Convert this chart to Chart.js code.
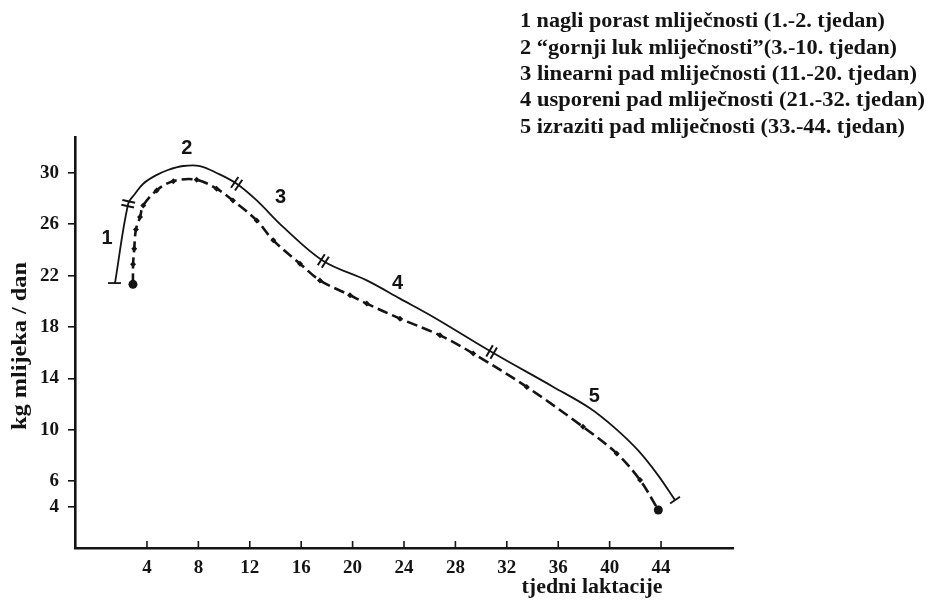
<!DOCTYPE html>
<html><head><meta charset="utf-8">
<script src="https://cdn.jsdelivr.net/npm/chart.js@4/dist/chart.umd.min.js"></script>
<style>html,body{margin:0;padding:0;background:#fff;}canvas{display:block;}</style>
</head><body>
<canvas id="c" width="926" height="605"></canvas>
<script>
// ---- data ----
const weeksSolid = [1.51, 2.54, 3.07, 3.71, 4.62, 5.63, 6.82, 8.12, 9.42, 10.98, 12.54, 14.61, 17.72, 21.1, 23.69, 26.28, 30.82, 35.62, 38.47, 40.42, 42.2, 43.76, 45.09];
const milkSolid  = [21.42, 27.6, 28.38, 29.16, 29.77, 30.23, 30.54, 30.54, 30.0, 29.16, 27.86, 25.78, 23.14, 21.63, 20.21, 18.78, 16.05, 13.33, 11.67, 10.12, 8.4, 6.46, 4.51];
const weeksDashed = [2.91, 2.92, 3.01, 3.14, 3.46, 3.71, 4.75, 6.05, 7.87, 9.42, 10.69, 12.54, 13.83, 15.91, 17.46, 19.8, 21.1, 23.69, 26.8, 29.39, 33.55, 37.93, 40.55, 42.37, 43.79];
const milkDashed  = [21.32, 22.88, 24.1, 25.6, 26.56, 27.47, 28.64, 29.36, 29.47, 28.77, 27.86, 26.3, 24.75, 22.93, 21.63, 20.47, 19.82, 18.65, 17.35, 15.93, 13.33, 10.22, 8.15, 6.07, 3.74];
const xTicks = [4, 8, 12, 16, 20, 24, 28, 32, 36, 40, 44];
const yTicks = [4, 6, 10, 14, 18, 22, 26, 30];
const breakWeeks = [2.54, 10.98, 17.72, 30.82];
const phaseLabels = ['1', '2', '3', '4', '5'];
const phaseLabelWeeks = [0.9, 7.1, 14.4, 23.5, 38.8];
const phaseLabelMilk  = [24.9, 31.9, 28.1, 21.4, 12.6];
const legendLines = [
  '1 nagli porast mliječnosti (1.-2. tjedan)',
  '2 \u201Cgornji luk mliječnosti\u201D(3.-10. tjedan)',
  '3 linearni pad mliječnosti (11.-20. tjedan)',
  '4 usporeni pad mliječnosti (21.-32. tjedan)',
  '5 izraziti pad mliječnosti (33.-44. tjedan)'
];
const legendWidths = [365, 377, 397, 405, 385];
const xTitle = 'tjedni laktacije';
const yTitle = 'kg mlijeka / dan';

const INK = '#141414';
const SERIF = '"Liberation Serif", "Times New Roman", serif';

const solidData = weeksSolid.map((w, i) => ({x: w, y: milkSolid[i]}));
const dashedData = weeksDashed.map((w, i) => ({x: w, y: milkDashed[i]}));

function stretchText(ctx, t, x, y, width) {
  const w = ctx.measureText(t).width;
  const k = width / w;
  ctx.save();
  ctx.translate(x, y);
  ctx.scale(k, 1);
  ctx.fillText(t, 0, 0);
  ctx.restore();
}

const decor = {
  id: 'decor',
  afterDraw(chart) {
    const {ctx, scales: {x, y}, chartArea} = chart;
    ctx.save();
    ctx.strokeStyle = INK; ctx.fillStyle = INK;
    // x tick marks pointing up
    ctx.lineWidth = 1.6;
    xTicks.forEach(v => {
      const px = x.getPixelForValue(v);
      ctx.beginPath(); ctx.moveTo(px, chartArea.bottom); ctx.lineTo(px, chartArea.bottom - 7); ctx.stroke();
    });
    // break marks on the solid curve
    const pts = solidData.map(p => [x.getPixelForValue(p.x), y.getPixelForValue(p.y)]);
    breakWeeks.forEach(w => {
      const i = weeksSolid.indexOf(w);
      const a = pts[Math.max(0, i - 1)], b = pts[Math.min(pts.length - 1, i + 1)];
      let dx = b[0] - a[0], dy = b[1] - a[1];
      const L = Math.hypot(dx, dy); dx /= L; dy /= L;
      const nx = -dy, ny = dx;
      const c = pts[i];
      ctx.lineWidth = 2;
      [-2.4, 2.4].forEach(o => {
        const cx = c[0] + dx * o, cy = c[1] + dy * o;
        ctx.beginPath();
        ctx.moveTo(cx - nx * 6.5, cy - ny * 6.5);
        ctx.lineTo(cx + nx * 6.5, cy + ny * 6.5);
        ctx.stroke();
      });
    });
    // end caps
    ctx.lineWidth = 1.8;
    const s0 = pts[0];
    ctx.beginPath(); ctx.moveTo(s0[0] - 7, s0[1]); ctx.lineTo(s0[0] + 6, s0[1]); ctx.stroke();
    const sn = pts[pts.length - 1], sp = pts[pts.length - 2];
    let ex = sn[0] - sp[0], ey = sn[1] - sp[1];
    const EL = Math.hypot(ex, ey); ex /= EL; ey /= EL;
    ctx.beginPath(); ctx.moveTo(sn[0] + ey * 6, sn[1] - ex * 6); ctx.lineTo(sn[0] - ey * 6, sn[1] + ex * 6); ctx.stroke();
    // phase labels
    ctx.font = 'bold 20px "Liberation Sans", Arial, sans-serif';
    ctx.textAlign = 'center'; ctx.textBaseline = 'middle';
    phaseLabels.forEach((t, i) => {
      ctx.fillText(t, x.getPixelForValue(phaseLabelWeeks[i]), y.getPixelForValue(phaseLabelMilk[i]));
    });
    // legend block
    ctx.font = 'bold 20px ' + SERIF;
    ctx.textAlign = 'left';
    legendLines.forEach((t, i) => {
      stretchText(ctx, t, 520, 22 + i * 26.4, legendWidths[i]);
    });
    // axis titles
    ctx.font = 'bold 20px ' + SERIF;
    ctx.textAlign = 'center';
    stretchText(ctx, xTitle, 592, 588, 141);
    ctx.save();
    ctx.translate(21, 346);
    ctx.rotate(-Math.PI / 2);
    stretchText(ctx, yTitle, 0, 0, 168);
    ctx.restore();
    ctx.restore();
  }
};

new Chart(document.getElementById('c'), {
  type: 'scatter',
  data: {
    datasets: [
      {
        label: 'faze',
        data: solidData,
        showLine: true,
        borderColor: INK,
        borderWidth: 1.8,
        tension: 0.35,
        pointRadius: 0,
        fill: false
      },
      {
        label: 'mliječnost',
        data: dashedData,
        showLine: true,
        borderColor: INK,
        backgroundColor: INK,
        borderWidth: 2.6,
        borderDash: [11, 5],
        tension: 0.35,
        pointStyle: ctx => (ctx.dataIndex === 0 || ctx.dataIndex === dashedData.length - 1) ? 'circle' : 'rectRot',
        pointRadius: ctx => (ctx.dataIndex === 0 || ctx.dataIndex === dashedData.length - 1) ? 4.5 : 3,
        pointBorderWidth: 0,
        fill: false
      }
    ]
  },
  options: {
    responsive: false,
    devicePixelRatio: 1,
    animation: false,
    layout: {padding: {left: 0, top: 137, right: 193, bottom: 0}},
    plugins: {legend: {display: false}, tooltip: {enabled: false}},
    scales: {
      x: {
        type: 'linear',
        min: -1.6, max: 49.6,
        afterBuildTicks: s => { s.ticks = xTicks.map(v => ({value: v})); },
        afterFit: s => { s.height = 57; },
        grid: {display: false, drawTicks: false},
        border: {display: true, color: INK, width: 2.6},
        ticks: {font: {family: SERIF, size: 19, weight: 'bold'}, color: INK, padding: 9, maxRotation: 0, autoSkip: false}
      },
      y: {
        type: 'linear',
        min: 0.78, max: 32.8,
        afterBuildTicks: s => { s.ticks = yTicks.map(v => ({value: v})); },
        afterFit: s => { s.width = 75; },
        grid: {display: true, drawOnChartArea: false, drawTicks: true, tickLength: 7, color: INK, lineWidth: 1.6},
        border: {display: true, color: INK, width: 2.6},
        ticks: {font: {family: SERIF, size: 19, weight: 'bold'}, color: INK, padding: 9, autoSkip: false}
      }
    }
  },
  plugins: [decor]
});
</script>
</body></html>
